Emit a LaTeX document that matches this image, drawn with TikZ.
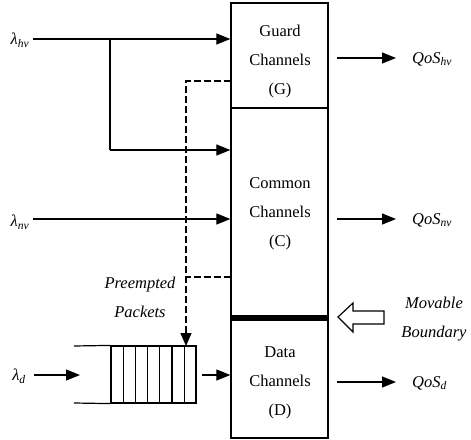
\documentclass[tikz,border=0pt]{standalone}
\usepackage{fontspec}
\setmainfont{Liberation Serif}
\usetikzlibrary{arrows.meta}
\begin{document}
\begin{tikzpicture}[x=1pt,y=-1pt,
  chan/.style={draw,line width=1.3pt,minimum width=97pt,inner sep=0pt},
  ctext/.style={align=center,inner sep=0pt,font=\fontsize{16.5}{29}\selectfont},
  arr/.style={line width=1.2pt,-{Triangle[length=14pt,width=11pt]}},
  dline/.style={line width=1.2pt,dash pattern=on 7pt off 3pt},
  lab/.style={font=\fontsize{16.5}{20}\selectfont\itshape,inner sep=0pt},
  ital/.style={font=\fontsize{16.5}{29}\selectfont\itshape,align=center,inner sep=0pt}]
\useasboundingbox (0,0) rectangle (471,439);
% channel boxes
\node[chan,minimum height=105pt] (guard) at (279.5,55.5) {};
\node[chan,minimum height=209pt] (common) at (279.5,212.5) {};
\node[chan,minimum height=121pt] (data) at (279.5,377.5) {};
\node[ctext] (gtxt) at (280,62) {Guard\\Channels\\(G)};
\node[ctext] (ctxt) at (280,214) {Common\\Channels\\(C)};
\node[ctext] (dtxt) at (280,383) {Data\\Channels\\(D)};
\draw[line width=6pt] (common.south west) -- (common.south east);
% input labels
\node[lab] (lhv) at (20,40) {λ\textsubscript{hv}};
\node[lab] (lnv) at (20,222) {λ\textsubscript{nv}};
\node[lab] (ld) at (19,376) {λ\textsubscript{d}};
% coordinates
\coordinate (hvs) at (33,39);
\coordinate (nvs) at (33,219);
\coordinate (ds) at (34,375);
\coordinate (b1) at (110,39);
\coordinate (b2) at (110,150);
\coordinate (qin) at (80,375);
% input arrows
\draw[arr] (hvs) -- (hvs -| guard.west);
\draw[line width=1.2pt] (b1) -- (b2);
\draw[arr] (b2) -- (b2 -| common.west);
\draw[arr] (nvs) -- (nvs -| common.west);
\draw[arr] (ds) -- (qin);
% queue
\node[draw,line width=1.2pt,minimum width=85pt,minimum height=57pt,inner sep=0pt] (queue) at (153.5,374.5) {};
\foreach \xx in {123.2,135.4,147.6,159.8,172,184.2}
  \draw[line width=1.2pt] (\xx,346) -- (\xx,403);
\draw[line width=1.2pt] (74,346) -- (queue.north west);
\draw[line width=1.2pt] (74,403) -- (queue.south west);
\coordinate (qo) at (202,375);
\draw[arr] (qo) -- (qo -| data.west);
% preempted dashed paths
\coordinate (p1) at (231,81);
\coordinate (p2) at (186,81);
\coordinate (p3) at (231,277);
\coordinate (p4) at (186,277);
\draw[dline] (p1) -- (p2) -- (p2 |- queue.north);
\draw[-{Triangle[length=13pt,width=11pt]},line width=1.2pt] (186,333) -- (186,346);
\draw[dline] (p3) -- (p4);
\node[ital] (pre) at (140,297) {Preempted\\Packets};
% outputs
\coordinate (o1) at (337,58);
\coordinate (o2) at (337,219);
\coordinate (o3) at (337,382);
\draw[arr] (o1) -- (396,58);
\draw[arr] (o2) -- (396,219);
\draw[arr] (o3) -- (396,382);
\node[lab,anchor=west] (qhv) at (412,59) {QoS\textsubscript{hv}};
\node[lab,anchor=west] (qnv) at (412,220) {QoS\textsubscript{nv}};
\node[lab,anchor=west] (qd) at (412,383) {QoS\textsubscript{d}};
% movable boundary
\draw[line width=1.2pt,fill=white] (338,317) -- (353,303) -- (353,311) -- (384,311) -- (384,324) -- (353,324) -- (353,332) -- cycle;
\node[ital] (mb) at (434,319) {Movable\\Boundary};
\end{tikzpicture}
\end{document}
